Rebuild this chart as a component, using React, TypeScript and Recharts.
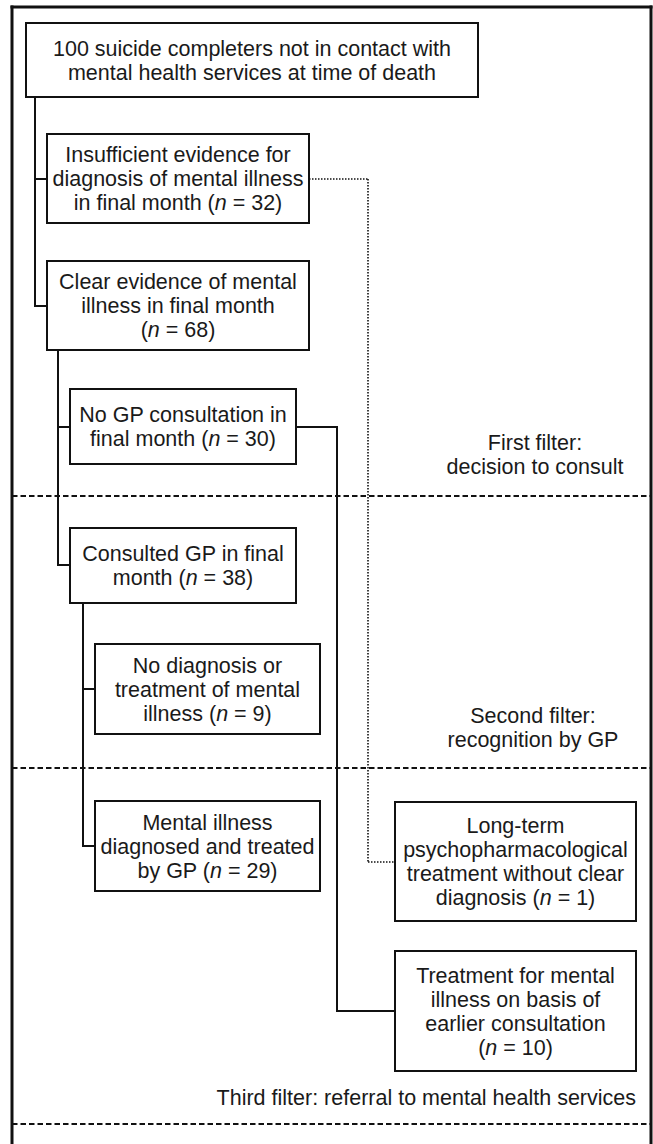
import React from "react";
import {
  ComposedChart,
  XAxis,
  YAxis,
  ReferenceArea,
  ReferenceLine,
  Scatter,
} from "recharts";

// Flow of 100 suicide completers through the three filters.
// Coordinates are in page pixels (x right, y down), mapped by the chart's own scales.
const W = 653;
const H = 1144;

// boxes: text lines (*n* = italic), then edges
const BOX_TEXT = [
  ["100 suicide completers not in contact with", "mental health services at time of death"],
  ["Insufficient evidence for", "diagnosis of mental illness", "in final month (*n* = 32)"],
  ["Clear evidence of mental", "illness in final month", "(*n* = 68)"],
  ["No GP consultation in", "final month (*n* = 30)"],
  ["Consulted GP in final", "month (*n* = 38)"],
  ["No diagnosis or", "treatment of mental", "illness (*n* = 9)"],
  ["Mental illness", "diagnosed and treated", "by GP (*n* = 29)"],
  ["Long-term", "psychopharmacological", "treatment without clear", "diagnosis (*n* = 1)"],
  ["Treatment for mental", "illness on basis of", "earlier consultation", "(*n* = 10)"],
];
const BOX_LEFT = [26, 47, 47, 70, 70, 95, 95, 395, 395];
const BOX_RIGHT = [478, 309, 309, 296, 296, 320, 320, 636, 636];
const BOX_TOP = [23, 134, 261, 389, 528, 644, 801, 802, 951];
const BOX_BOTTOM = [97, 223, 350, 464, 603, 734, 891, 921, 1071];

// connector segments [x1, y1, x2, y2]
const SOLID_LINKS = [
  [35, 97, 35, 306], [35, 179, 47, 179], [35, 306, 47, 306],
  [58, 350, 58, 565], [58, 427, 70, 427], [58, 565, 70, 565],
  [83, 603, 83, 846], [83, 689, 95, 689], [83, 846, 95, 846],
  [296, 427, 337, 427], [337, 427, 337, 1011], [337, 1011, 395, 1011],
];
const DOTTED_LINKS = [
  [309, 179, 368, 179], [368, 179, 368, 862], [368, 862, 395, 862],
];

// outer frame and filter boundaries
const FRAME = [
  [12, 7, 651, 7], [12, 7, 12, 1144], [651, 7, 651, 1144],
];
const FILTER_Y = [496, 768, 1124];
const FILTER_TEXT = [
  ["First filter:", "decision to consult"],
  ["Second filter:", "recognition by GP"],
  ["Third filter: referral to mental health services"],
];
const FILTER_X = [535, 533, 636];
const FILTER_MID = [454, 727, 1097];
const FILTER_ANCHOR = ["middle", "middle", "end"];

const FONT = "'Liberation Sans', Arial, sans-serif";
const LINE_H = 24;

const boxLabels = BOX_TEXT.map((lines, i) => ({
  x: (BOX_LEFT[i] + BOX_RIGHT[i]) / 2,
  y: (BOX_TOP[i] + BOX_BOTTOM[i]) / 2,
  lines,
  anchor: "middle",
}));
const filterLabels = FILTER_TEXT.map((lines, i) => ({
  x: FILTER_X[i],
  y: FILTER_MID[i],
  lines,
  anchor: FILTER_ANCHOR[i],
}));

function TextBlock(props: any) {
  const { cx, cy, payload } = props;
  const lines: string[] = payload.lines;
  const top = cy - ((lines.length - 1) * LINE_H) / 2;
  return (
    <text
      x={cx}
      y={top}
      textAnchor={payload.anchor}
      fontFamily={FONT}
      fontSize={21.5}
      fill="#1a1a1a"
    >
      {lines.map((line, k) => (
        <tspan key={k} x={cx} y={top + k * LINE_H} dy="0.36em">
          {line.split("*").map((part, j) =>
            j % 2 === 1 ? (
              <tspan key={j} fontStyle="italic">{part}</tspan>
            ) : (
              <tspan key={j}>{part}</tspan>
            )
          )}
        </tspan>
      ))}
    </text>
  );
}

export default function App() {
  return (
    <div style={{ position: "absolute", left: 0, top: 0, background: "#fff" }}>
      <ComposedChart width={W} height={H} margin={{ top: 0, right: 0, bottom: 0, left: 0 }}>
        <XAxis type="number" dataKey="x" domain={[0, W]} hide allowDataOverflow />
        <YAxis type="number" dataKey="y" domain={[0, H]} reversed hide allowDataOverflow />

        {FRAME.map(([x1, y1, x2, y2], i) => (
          <ReferenceLine
            key={`f${i}`}
            segment={[{ x: x1, y: y1 }, { x: x2, y: y2 }]}
            stroke="#111"
            strokeWidth={3}
            strokeLinecap="square"
            ifOverflow="visible"
          />
        ))}
        {FILTER_Y.map((y, i) => (
          <ReferenceLine
            key={`d${i}`}
            segment={[{ x: 12, y }, { x: 651, y }]}
            stroke="#111"
            strokeWidth={1.8}
            strokeDasharray="5.5 3"
            ifOverflow="visible"
          />
        ))}
        {SOLID_LINKS.map(([x1, y1, x2, y2], i) => (
          <ReferenceLine
            key={`s${i}`}
            segment={[{ x: x1, y: y1 }, { x: x2, y: y2 }]}
            stroke="#111"
            strokeWidth={2}
            strokeLinecap="square"
            ifOverflow="visible"
          />
        ))}
        {DOTTED_LINKS.map(([x1, y1, x2, y2], i) => (
          <ReferenceLine
            key={`o${i}`}
            segment={[{ x: x1, y: y1 }, { x: x2, y: y2 }]}
            stroke="#111"
            strokeWidth={1.6}
            strokeDasharray="1.5 1.5"
            ifOverflow="visible"
          />
        ))}
        {BOX_TEXT.map((_, i) => (
          <ReferenceArea
            key={`b${i}`}
            x1={BOX_LEFT[i]}
            x2={BOX_RIGHT[i]}
            y1={BOX_TOP[i]}
            y2={BOX_BOTTOM[i]}
            fill="none"
            stroke="#111"
            strokeWidth={2}
            ifOverflow="visible"
          />
        ))}

        <Scatter data={boxLabels} shape={TextBlock} isAnimationActive={false} />
        <Scatter data={filterLabels} shape={TextBlock} isAnimationActive={false} />
      </ComposedChart>
    </div>
  );
}
